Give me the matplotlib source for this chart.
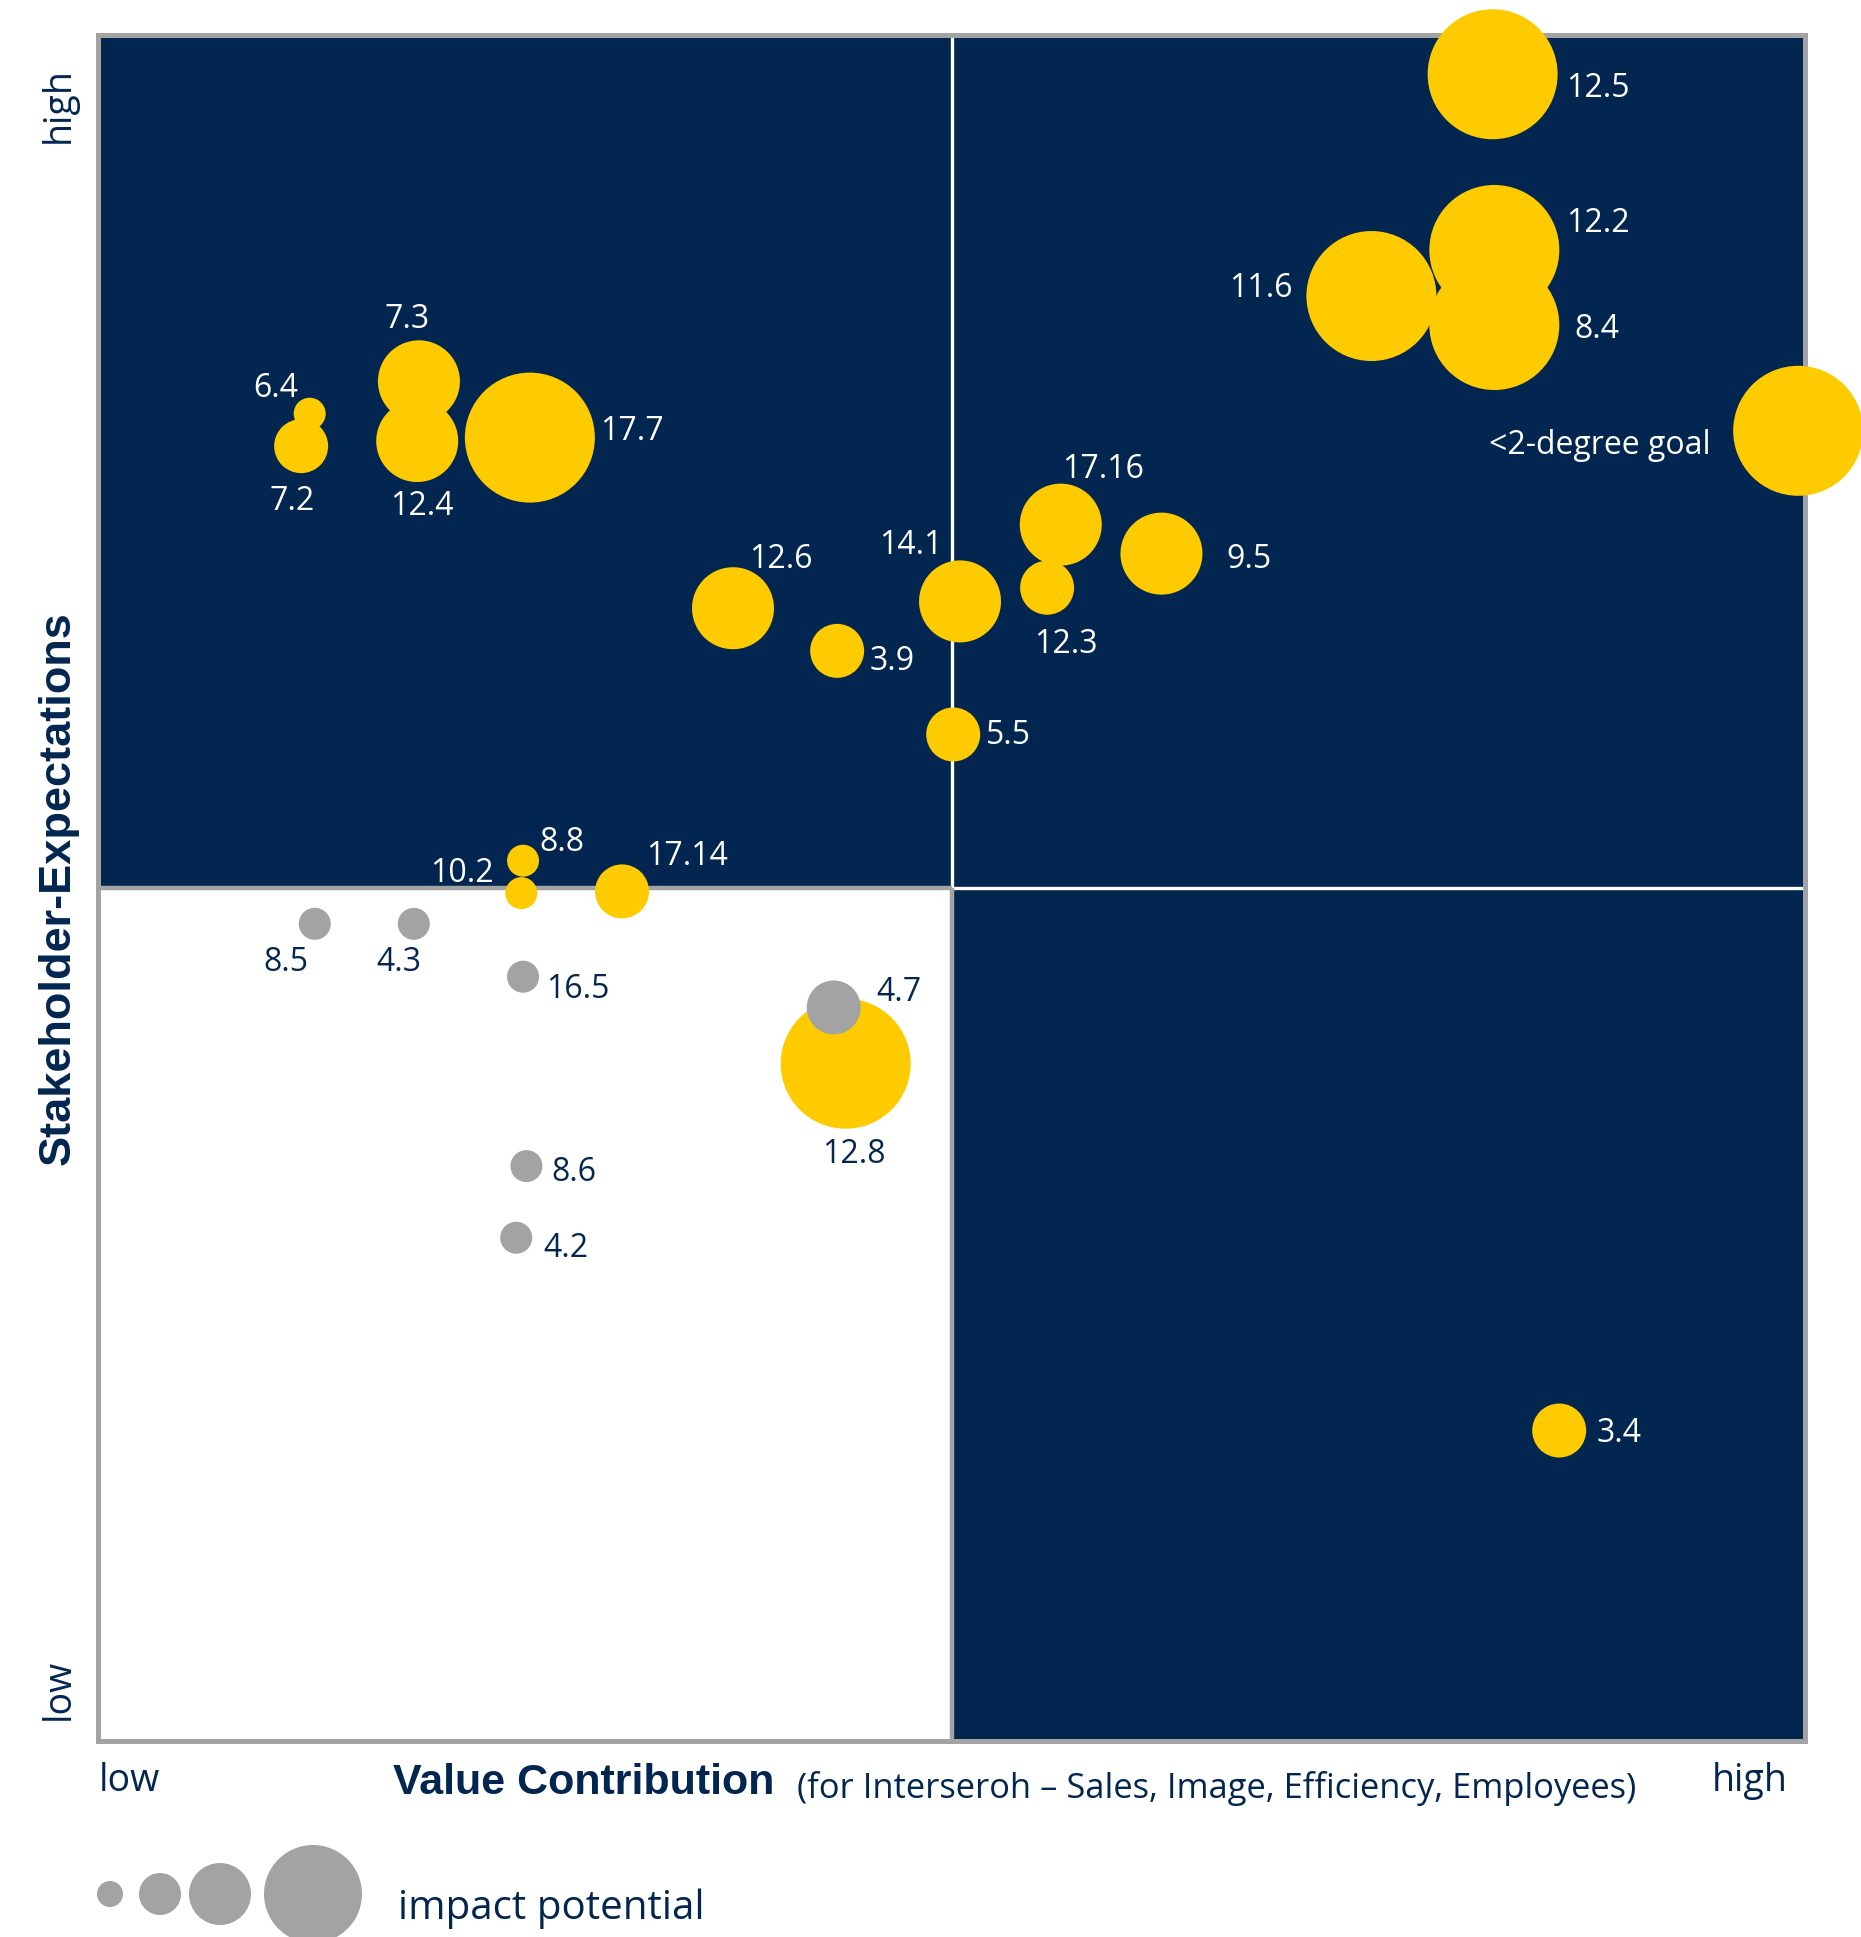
import matplotlib.pyplot as plt

# bubble data (0..100 on both axes)
names = ["12.5", "12.2", "8.4", "11.6", "<2-degree goal", "17.7", "7.3", "12.4",
         "6.4", "7.2", "12.6", "3.9", "14.1", "17.16", "12.3", "9.5", "5.5",
         "8.8", "10.2", "17.14", "8.5", "4.3", "16.5", "12.8", "4.7", "8.6",
         "4.2", "3.4"]
value_x = [81.7, 81.8, 81.8, 74.6, 99.6, 25.3, 18.8, 18.7, 12.4, 11.9, 37.2,
           43.3, 50.5, 56.4, 55.6, 62.3, 50.1, 24.9, 24.8, 30.7, 12.7, 18.5,
           24.9, 43.8, 43.1, 25.1, 24.5, 85.6]
stake_y = [97.7, 87.4, 83.0, 84.7, 76.8, 76.4, 79.7, 76.2, 77.8, 75.9, 66.4,
           63.9, 66.8, 71.3, 67.6, 69.6, 59.0, 51.6, 49.7, 49.8, 47.9, 47.9,
           44.8, 39.7, 43.0, 33.7, 29.5, 18.2]
impact = [4, 4, 4, 4, 4, 4, 3, 3, 1, 2, 3, 2, 3, 3, 2, 3, 2, 1, 1, 2, 1, 1,
          1, 4, 2, 1, 1, 2]
in_focus = [1, 1, 1, 1, 1, 1, 1, 1, 1, 1, 1, 1, 1, 1, 1, 1, 1, 1, 1, 1, 0, 0,
            0, 1, 0, 0, 0, 1]

# label placement (data units) and alignment
label_x = [86.0, 86.0, 86.5, 70.0, 94.5, 29.4, 18.1, 19.0, 10.4, 11.4, 40.0,
           45.2, 47.6, 58.9, 56.7, 66.1, 52.0, 27.2, 21.3, 34.5, 11.0, 17.6,
           28.1, 44.3, 46.9, 27.9, 27.4, 87.8]
label_y = [97.0, 89.1, 82.9, 85.3, 76.1, 76.9, 83.5, 72.5, 79.4, 72.8, 69.4,
           63.4, 70.2, 74.7, 64.4, 69.4, 59.1, 52.8, 51.0, 52.0, 45.8, 45.8,
           44.2, 34.5, 44.0, 33.5, 29.0, 18.2]
label_ha = ["left", "left", "left", "right", "right", "left", "center",
            "center", "center", "center", "center", "left", "center", "center",
            "center", "left", "left", "center", "center", "center", "center",
            "center", "center", "center", "center", "center", "center", "left"]

legend_levels = [1, 2, 3, 4]

NAVY = "#02264F"
YELLOW = "#FDCB00"
GRAY = "#A3A3A3"
BODY = "Open Sans"
BOLD = ["Liberation Sans", "DejaVu Sans"]

W, H = 1861, 1937
fig = plt.figure(figsize=(W / 100, H / 100), dpi=100)

def px_size(r):
    # radius in pixels -> scatter area in pt^2
    return (2 * r * 72 / 100) ** 2

radius = {1: 16, 2: 27, 3: 41, 4: 65}
legend_radius = {1: 13, 2: 21, 3: 31, 4: 49}

left, right, top, bottom = 98, 1805, 35, 1741
ax = fig.add_axes([left / W, 1 - bottom / H, (right - left) / W, (bottom - top) / H])
ax.set_xlim(0, 100)
ax.set_ylim(0, 100)
ax.set_xticks([])
ax.set_yticks([])
ax.set_facecolor(NAVY)
for s in ax.spines.values():
    s.set_color(GRAY)
    s.set_linewidth(3.6)
    s.set_zorder(5)

ax.add_patch(plt.Rectangle((0, 0), 50, 50, facecolor="white", edgecolor="none", zorder=0))
ax.plot([50, 50], [50, 100], color="white", lw=2.4, zorder=1)
ax.plot([50, 100], [50, 50], color="white", lw=2.4, zorder=1)
ax.plot([0, 50], [50, 50], color=GRAY, lw=3.2, zorder=1, solid_capstyle="butt")
ax.plot([50, 50], [0, 50], color=GRAY, lw=3.2, zorder=1, solid_capstyle="butt")

for i in range(len(names)):
    col = YELLOW if in_focus[i] else GRAY
    ax.scatter(value_x[i], stake_y[i], s=px_size(radius[impact[i]]), color=col,
               edgecolors="none", zorder=6 + i * 0.01, clip_on=False)
    tcol = NAVY if (label_x[i] < 50 and label_y[i] < 50) else "white"
    ax.text(label_x[i], label_y[i] - 0.15, names[i], ha=label_ha[i], va="center",
            color=tcol, fontsize=23, family=BODY, zorder=8)

# outer texts and legend on a full-figure overlay
ov = fig.add_axes([0, 0, 1, 1], zorder=-1)
ov.set_xlim(0, W)
ov.set_ylim(H, 0)
ov.axis("off")

ov.text(59, 105, "high", rotation=90, ha="center", va="center", color=NAVY,
        fontsize=27, family=BODY)
ov.text(59, 1689, "low", rotation=90, ha="center", va="center", color=NAVY,
        fontsize=27, family=BODY)
ov.text(58, 888, "Stakeholder-Expectations", rotation=90, ha="center",
        va="center", color=NAVY, fontsize=32.5, fontweight="bold", family=BOLD)
ov.text(99, 1781, "low", ha="left", va="center", color=NAVY, fontsize=27, family=BODY)
ov.text(1788, 1781, "high", ha="right", va="center", color=NAVY, fontsize=27, family=BODY)
ov.text(393, 1783, "Value Contribution", ha="left", va="center", color=NAVY,
        fontsize=31, fontweight="bold", family=BOLD)
ov.text(797, 1788, "(for Interseroh \u2013 Sales, Image, Efficiency, Employees)",
        ha="left", va="center", color=NAVY, fontsize=24.8, family=BODY)

leg_x = [110, 160, 220, 313]
for lx, lv in zip(leg_x, legend_levels):
    ov.scatter(lx, 1894, s=px_size(legend_radius[lv]), color=GRAY,
               edgecolors="none", clip_on=False)
ov.text(398, 1909, "impact potential", ha="left", va="center", color=NAVY,
        fontsize=29, family=BODY)

fig.savefig("out.png", dpi=100)
